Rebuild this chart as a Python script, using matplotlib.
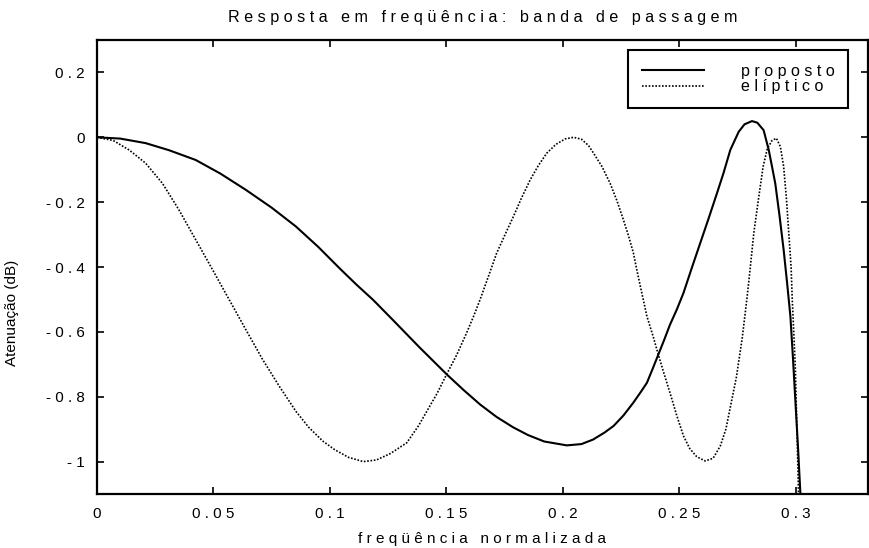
# Passband response: proposed filter vs elliptic filter
import numpy as np
import matplotlib
matplotlib.use("Agg")
from matplotlib import pyplot as plt


# proposed filter, attenuation (dB) vs normalized frequency
freq_proposto = [0.000, 0.010, 0.0209, 0.031, 0.0424, 0.053, 0.0639, 0.075, 0.0854, 0.095,
                 0.1043, 0.1115, 0.1185, 0.127, 0.1385, 0.1503, 0.1575, 0.1645, 0.1715, 0.1786,
                 0.185, 0.192, 0.2017, 0.208, 0.213, 0.218, 0.2218, 0.226, 0.2303, 0.2335,
                 0.2361, 0.2385, 0.241, 0.2435, 0.246, 0.249, 0.2518, 0.2555, 0.259, 0.2626,
                 0.2662, 0.269, 0.2719, 0.2755, 0.278, 0.2812, 0.2835, 0.2862, 0.2884, 0.2898,
                 0.2912, 0.293, 0.2948, 0.2963, 0.2977, 0.2988, 0.2998, 0.301, 0.302, 0.3025]
aten_proposto = [0.000, -0.004, -0.018, -0.040, -0.070, -0.112, -0.162, -0.217, -0.275, -0.338,
                 -0.405, -0.455, -0.501, -0.563, -0.648, -0.732, -0.780, -0.824, -0.862, -0.894,
                 -0.918, -0.938, -0.950, -0.946, -0.932, -0.910, -0.890, -0.858, -0.818, -0.785,
                 -0.757, -0.715, -0.670, -0.625, -0.578, -0.530, -0.480, -0.400, -0.326, -0.250,
                 -0.172, -0.110, -0.039, 0.017, 0.040, 0.050, 0.045, 0.022, -0.039, -0.090,
                 -0.142, -0.240, -0.347, -0.450, -0.552, -0.680, -0.808, -0.960, -1.100, -1.200]

# elliptic filter
freq_eliptico = [0.000, 0.007, 0.0138, 0.0209, 0.0281, 0.0352, 0.0424, 0.0496, 0.0567, 0.0639,
                 0.0711, 0.0782, 0.0854, 0.091, 0.097, 0.102, 0.108, 0.1143, 0.120, 0.126,
                 0.133, 0.138, 0.142, 0.146, 0.1501, 0.1545, 0.1587, 0.1618, 0.1645, 0.168,
                 0.1716, 0.1752, 0.1788, 0.1824, 0.186, 0.1895, 0.1931, 0.197, 0.201, 0.2046,
                 0.208, 0.211, 0.2132, 0.2168, 0.2203, 0.2232, 0.226, 0.2283, 0.2303, 0.2318,
                 0.2333, 0.2361, 0.2386, 0.241, 0.2435, 0.2461, 0.249, 0.2518, 0.2545, 0.2575,
                 0.2611, 0.2645, 0.2676, 0.270, 0.272, 0.2745, 0.277, 0.279, 0.2805, 0.282,
                 0.284, 0.286, 0.2878, 0.2898, 0.2917, 0.2934, 0.2948, 0.296, 0.297, 0.298,
                 0.2985, 0.2998, 0.3005, 0.3012, 0.3016]
aten_eliptico = [0.000, -0.010, -0.039, -0.080, -0.142, -0.224, -0.316, -0.408, -0.500, -0.593,
                 -0.685, -0.767, -0.845, -0.895, -0.937, -0.963, -0.987, -1.000, -0.995, -0.975,
                 -0.942, -0.890, -0.840, -0.790, -0.731, -0.670, -0.603, -0.550, -0.500, -0.430,
                 -0.357, -0.300, -0.244, -0.185, -0.131, -0.087, -0.049, -0.022, -0.005, 0.000,
                 -0.006, -0.025, -0.049, -0.090, -0.142, -0.195, -0.254, -0.306, -0.357, -0.410,
                 -0.460, -0.552, -0.610, -0.670, -0.730, -0.790, -0.860, -0.921, -0.960, -0.985,
                 -0.998, -0.990, -0.952, -0.900, -0.829, -0.740, -0.620, -0.500, -0.400, -0.295,
                 -0.190, -0.090, -0.035, -0.010, -0.003, -0.029, -0.090, -0.190, -0.295, -0.400,
                 -0.500, -0.706, -0.900, -1.100, -1.200]

xticks = [0, 0.05, 0.1, 0.15, 0.2, 0.25, 0.3]
xtick_labels = ["0", "0.05", "0.1", "0.15", "0.2", "0.25", "0.3"]
yticks = [0.2, 0, -0.2, -0.4, -0.6, -0.8, -1]
ytick_labels = ["0.2", "0", "-0.2", "-0.4", "-0.6", "-0.8", "-1"]


# letter-spaced text, the way the old plotting program wrote it
def spaced(s):
    return "   ".join(" ".join(w) for w in s.split(" "))


plt.rcParams["font.family"] = "Liberation Sans"
plt.rcParams["axes.unicode_minus"] = False

fig = plt.figure(figsize=(8.69, 5.48), dpi=100)
ax = fig.add_axes([0.1116, 0.0985, 0.8872, 0.8285])

ax.plot(freq_proposto, aten_proposto, color="black", lw=1.5, label=spaced("proposto"))
ax.plot(freq_eliptico, aten_eliptico, color="black", lw=1.2, linestyle=(0, (1, 1)),
        label=spaced("elíptico"))

ax.set_xlim(0, 0.331)
ax.set_ylim(-1.1, 0.3)
ax.set_xticks(xticks)
ax.set_xticklabels([spaced(t) for t in xtick_labels])
ax.set_yticks(yticks)
ax.set_yticklabels([spaced(t) for t in ytick_labels])
ax.tick_params(direction="in", length=5, width=1.2, top=True, right=True,
               labeltop=False, labelright=False, labelsize=11, pad=9)
for s in ax.spines.values():
    s.set_linewidth(1.6)

ax.set_title(spaced("Resposta em freqüência: banda de passagem"), fontsize=11.6, pad=13)
ax.set_xlabel(spaced("freqüência normalizada"), fontsize=11, labelpad=8)
ax.set_ylabel("Atenuação (dB)", fontsize=11)
ax.yaxis.set_label_coords(-0.101, 0.4)

leg = ax.legend(loc="upper right", bbox_to_anchor=(0.974, 0.978), borderaxespad=0,
                fontsize=11.5, handlelength=3.9, handletextpad=2.3, labelspacing=0.05,
                borderpad=0.85, fancybox=False, framealpha=1, edgecolor="black")
leg.get_frame().set_linewidth(1.5)

plt.savefig("out.png", dpi=100)
